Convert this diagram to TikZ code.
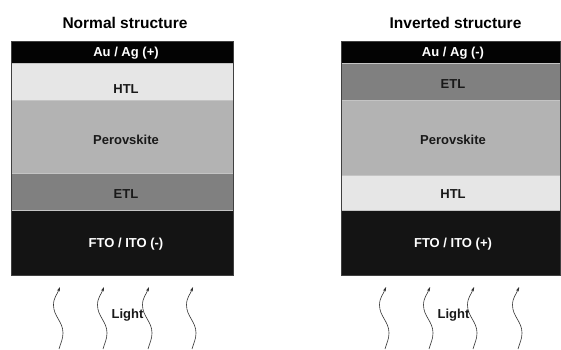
\documentclass[tikz,border=0pt]{standalone}
\usepackage{fontspec}
\setmainfont{Liberation Sans}
\usetikzlibrary{arrows.meta}
\definecolor{cAu}{HTML}{030303}
\definecolor{cHTL}{HTML}{E6E6E6}
\definecolor{cPero}{HTML}{B3B3B3}
\definecolor{cETL}{HTML}{808080}
\definecolor{cFTO}{HTML}{141414}
\definecolor{cSep}{HTML}{C4C4C4}
\begin{document}
\begin{tikzpicture}[x=1pt,y=1pt,
  layer/.style={draw=cSep,line width=0.6pt},
  frame/.style={draw=black!75,line width=0.7pt},
  title/.style={font=\fontsize{15.5}{17}\selectfont\bfseries,inner sep=0pt},
  lab/.style={font=\fontsize{13}{15}\selectfont\bfseries,inner sep=0pt},
  darklab/.style={lab,text=white},
  lightlab/.style={lab,text=black!90},
  wave/.style={draw=black!80,line width=0.6pt,-{Stealth[length=4.5pt,width=3.2pt]}}
]
\useasboundingbox (0,0) rectangle (561,349);
\fill[white] (0,0) rectangle (561,349);

% ---------- Normal structure (y = 349 - image y)
\path[layer,fill=cFTO]  (11,74)  rectangle (233,139);
\path[layer,fill=cETL]  (11,139) rectangle (233,176);
\path[layer,fill=cPero] (11,176) rectangle (233,249);
\path[layer,fill=cHTL]  (11,249) rectangle (233,286);
\path[layer,fill=cAu]   (11,286) rectangle (233,308);
\path[frame] (11,74) rectangle (233,308);

\node[title] (t1) at (125,326) {Normal structure};
\node[darklab]  (n1) at (126,295.5) {Au / Ag (+)};
\node[lightlab] (n2) at (126,260) {HTL};
\node[lightlab] (n3) at (126,209.5) {Perovskite};
\node[lightlab] (n4) at (126,155) {ETL};
\node[darklab]  (n5) at (126,104.5) {FTO / ITO (-)};

% ---------- Inverted structure
\path[layer,fill=cFTO]  (341,74)  rectangle (560,139);
\path[layer,fill=cHTL]  (341,139) rectangle (560,174);
\path[layer,fill=cPero] (341,174) rectangle (560,249);
\path[layer,fill=cETL]  (341,249) rectangle (560,286);
\path[layer,fill=cAu]   (341,286) rectangle (560,308);
\path[frame] (341,74) rectangle (560,308);

\node[title] (t2) at (455.5,326) {Inverted structure};
\node[darklab]  (i1) at (453,295.5) {Au / Ag (-)};
\node[lightlab] (i2) at (453,265) {ETL};
\node[lightlab] (i3) at (453,209.5) {Perovskite};
\node[lightlab] (i4) at (453,155) {HTL};
\node[darklab]  (i5) at (453,104.5) {FTO / ITO (+)};

% ---------- Light waves
\foreach \x/\n in {60/a,104/b,149/c,193/d,386/e,430/f,474/g,519/h}{
  \coordinate (s\n) at (\x-1,0);
  \coordinate (m\n) at (\x+3,16);
  \coordinate (k\n) at (\x-6.5,44);
  \coordinate (e\n) at (\x,62);
  \draw[wave] (s\n) to[out=75,in=-90] (m\n) to[out=90,in=-90] (k\n) to[out=90,in=-110] (e\n);
}
\node[lightlab] (l1) at (127.5,33.5) {Light};
\node[lightlab] (l2) at (453.5,33.5) {Light};
\end{tikzpicture}
\end{document}
